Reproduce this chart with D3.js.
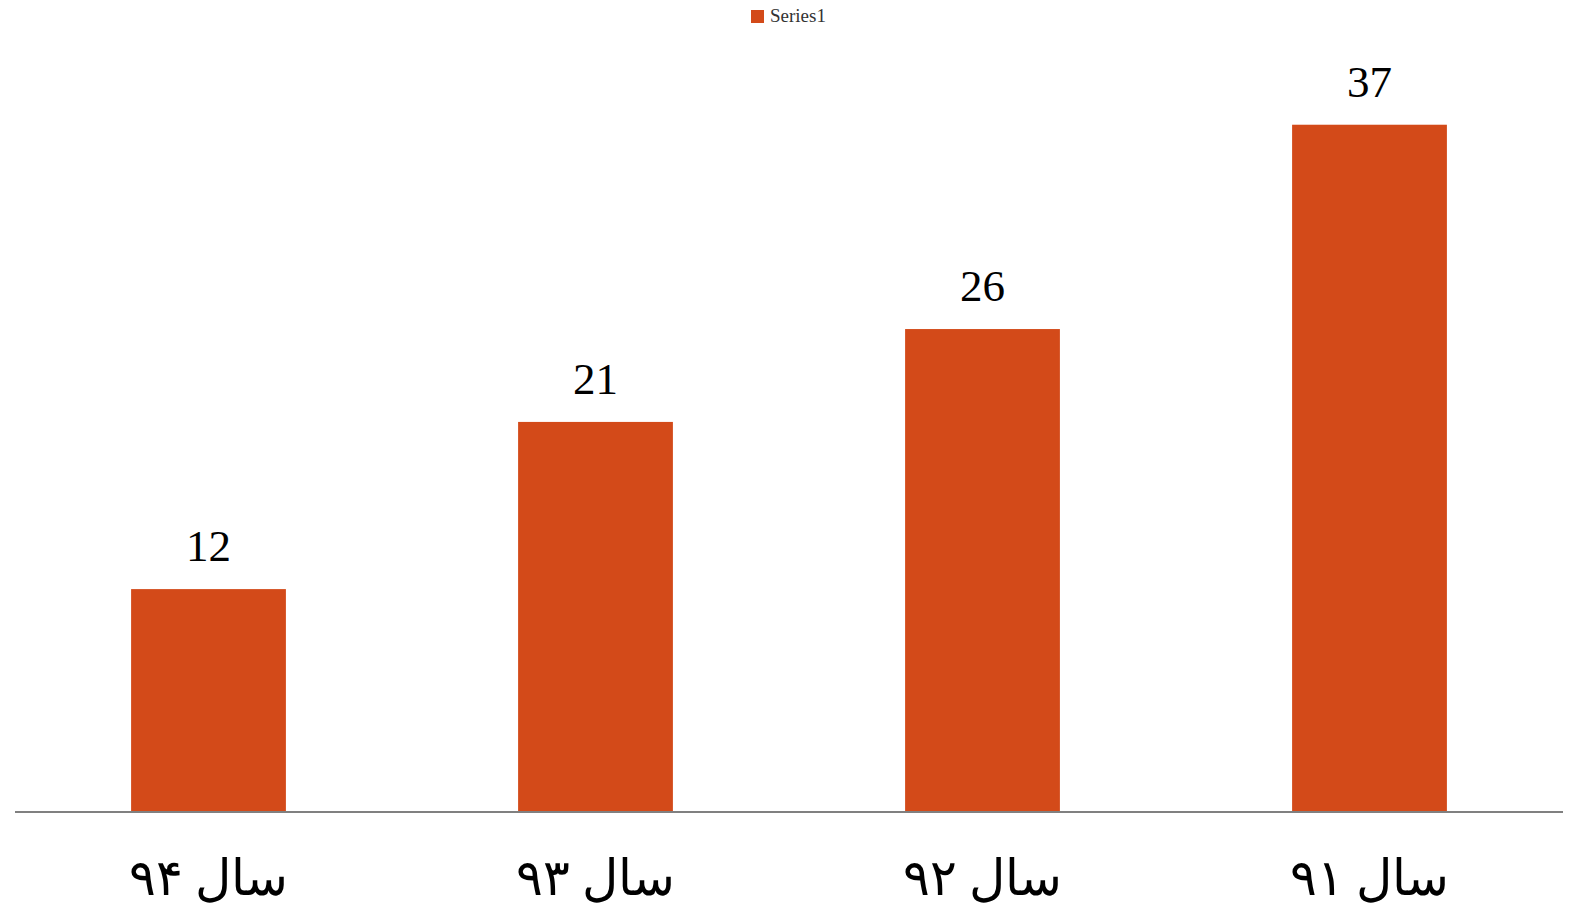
<!DOCTYPE html>
<html>
<head>
<meta charset="utf-8">
<script src="https://cdn.jsdelivr.net/npm/d3@7"></script>
<style>
  body { margin: 0; background: #fff; }
  svg { display: block; }
</style>
</head>
<body>
<svg id="chart" width="1593" height="923"></svg>
<script>
const categories = ['سال ۹۴', 'سال ۹۳', 'سال ۹۲', 'سال ۹۱'];
const values = [12, 21, 26, 37];
const seriesName = 'Series1';

const W = 1593, H = 923;
const margin = { top: 69, right: 30, bottom: 111, left: 15 };
const barColor = '#D34A19';

const svg = d3.select('#chart');

const x = d3.scaleBand()
    .domain(categories)
    .range([margin.left, W - margin.right])
    .paddingInner(0.6)
    .paddingOuter(0.3);

const y = d3.scaleLinear()
    .domain([0, 40])
    .range([H - margin.bottom, margin.top]);

// bars
svg.selectAll('rect.bar')
    .data(values)
    .enter()
    .append('rect')
    .attr('class', 'bar')
    .attr('x', (d, i) => x(categories[i]))
    .attr('y', d => y(d))
    .attr('width', x.bandwidth())
    .attr('height', d => y(0) - y(d))
    .attr('fill', barColor);

// value labels
svg.selectAll('text.val')
    .data(values)
    .enter()
    .append('text')
    .attr('class', 'val')
    .attr('x', (d, i) => x(categories[i]) + x.bandwidth() / 2)
    .attr('y', d => y(d) - 28)
    .attr('text-anchor', 'middle')
    .attr('font-family', '"Liberation Serif", "Times New Roman", serif')
    .attr('font-size', 45)
    .attr('fill', '#000')
    .text(d => d);

// x axis
const xAxis = svg.append('g')
    .attr('transform', `translate(0,${y(0)})`)
    .call(d3.axisBottom(x).tickSize(0).tickPadding(0));
xAxis.select('.domain')
    .attr('d', `M${margin.left},0H${W - margin.right}`)
    .attr('stroke', '#808080')
    .attr('stroke-width', 2);
xAxis.selectAll('text')
    .attr('y', 83)
    .attr('dy', 0)
    .attr('direction', 'rtl')
    .attr('text-anchor', 'middle')
    .attr('font-family', '"Liberation Serif", "DejaVu Serif", serif')
    .attr('font-size', 50)
    .attr('fill', '#000');

// legend
const legend = svg.append('g').attr('transform', 'translate(751,10)');
legend.append('rect')
    .attr('width', 13)
    .attr('height', 13)
    .attr('fill', barColor);
legend.append('text')
    .attr('x', 19)
    .attr('y', 12)
    .attr('font-family', '"Liberation Serif", "Times New Roman", serif')
    .attr('font-size', 19)
    .attr('fill', '#333')
    .text(seriesName);
</script>
</body>
</html>
